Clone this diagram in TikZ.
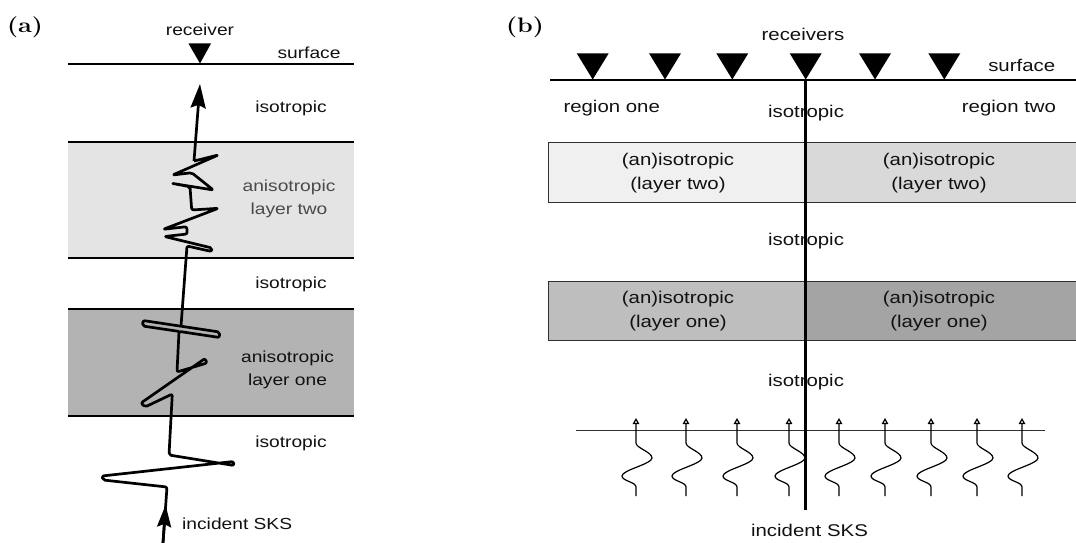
\documentclass[tikz,border=0pt]{standalone}
\usepackage{fontspec}
\usepackage{graphicx}
\usetikzlibrary{arrows.meta}
\newfontfamily\arialish{Liberation Sans}[FakeStretch=1.2]
\definecolor{txt}{HTML}{111111}
\definecolor{txtgray}{HTML}{4A4A4A}
\definecolor{aTwo}{HTML}{E4E4E4}
\definecolor{aOne}{HTML}{B3B3B3}
\definecolor{bTwoL}{HTML}{F0F0F0}
\definecolor{bTwoR}{HTML}{D9D9D9}
\definecolor{bOneL}{HTML}{BEBEBE}
\definecolor{bOneR}{HTML}{A4A4A4}
\definecolor{edge}{HTML}{303030}
\begin{document}
\begin{tikzpicture}[x=1pt,y=-1pt,
  lbl/.style={font=\fontsize{21}{23}\selectfont\bfseries, inner sep=0pt},
  ta/.style={font=\arialish\fontsize{16}{23}\selectfont, text=txt, inner sep=0pt, align=center},
  tb/.style={font=\arialish\fontsize{17}{23.8}\selectfont, text=txt, inner sep=0pt, align=center},
  ray/.style={line width=2.7pt, line join=round, rounded corners=2pt},
  bound/.style={line width=2pt},
  layerbox/.style={draw=edge, line width=1.4pt},
  wave/.style={line width=1.2pt, line join=round},
  recv/.style={fill=black}
]
\useasboundingbox (0,0) rectangle (1076,543);

% ---------------- panel (a) ----------------
\node[lbl] (la) at (25,27) {\scalebox{1.2}[1]{(a)}};
\fill[aTwo] (68,142) rectangle (354,258);
\fill[aOne] (68,309) rectangle (354,416);
\draw[bound] (68,64) -- (354,64);
\draw[bound] (68,142) -- (354,142);
\draw[bound] (68,258) -- (354,258);
\draw[bound] (68,309) -- (354,309);
\draw[bound] (68,416) -- (354,416);
\fill[recv] (188.5,43.5) -- (211,43.5) -- (200,63.5) -- cycle;

\node[ta] (arecv) at (200,30) {receiver};
\node[ta] (asurf) at (309,53) {surface};
\node[ta] (aiso1) at (291,108) {isotropic};
\node[ta, text=txtgray] (aani2) at (289,198.5) {anisotropic\\layer two};
\node[ta] (aiso2) at (291,284) {isotropic};
\node[ta] (aani1) at (287.5,369.5) {anisotropic\\layer one};
\node[ta] (aiso3) at (291,443.3) {isotropic};
\node[ta, anchor=west] (ainc) at (182,523.3) {incident SKS};

% ray path
\draw[ray] (163,543) -- (167,487) -- (103,480) -- (102,476) -- (233.5,461.5) -- (234,465.5) -- (169,455)
  -- (172.3,394) -- (145,407) -- (141,403) -- (205,358.5) -- (207,363) -- (177,372)
  -- (179,331.4) -- (219.5,337.5) -- (219.5,332) -- (143,320.5) -- (142.5,326) -- (179,331.4);
\draw[ray] (181,326.2) -- (187,246) -- (211.7,251.5) -- (212,248) -- (164.5,236.5) -- (187.3,234)
  -- (186.7,226.7) -- (163.3,229.3) -- (218.3,208.3) -- (191.7,210) -- (190,186.7)
  -- (171.7,183.3) -- (213.3,190) -- (191.7,172.7) -- (172.7,175) -- (218.3,155) -- (194,161);
\draw[line width=2.7pt, -{Stealth[length=24pt,width=15pt,inset=3pt]}] (194,161) -- (200,84);
\draw[line width=2.7pt, -{Stealth[length=22pt,width=14pt,inset=3pt]}] (163,543) -- (165.6,505);

% ---------------- panel (b) ----------------
\node[lbl] (lb) at (525,27) {\scalebox{1.2}[1]{(b)}};
\filldraw[layerbox, fill=bTwoL] (548.3,142.7) rectangle (805.7,202.3);
\filldraw[layerbox, fill=bTwoR] (805.7,142.7) rectangle (1076.5,202.3);
\filldraw[layerbox, fill=bOneL] (548.3,281.7) rectangle (805.7,340.7);
\filldraw[layerbox, fill=bOneR] (805.7,281.7) rectangle (1076.5,340.7);
\draw[bound] (550,80) -- (1076,80);
\foreach \x in {592.7,665,732.3,805.7,875,944.3}
  \fill[recv] (\x-16,53.3) -- (\x+16,53.3) -- (\x,79.5) -- cycle;

\node[tb] (brecv) at (803,34) {receivers};
\node[tb] (bsurf) at (1021.7,65) {surface};
\node[tb] (breg1) at (611.7,108) {region one};
\node[tb] (biso1) at (806,113) {isotropic};
\node[tb] (breg2) at (1009,108) {region two};
\node[tb] (btwoL) at (678,173.3) {(an)isotropic\\(layer two)};
\node[tb] (btwoR) at (939,173.3) {(an)isotropic\\(layer two)};
\node[tb] (biso2) at (806,240.7) {isotropic};
\node[tb] (boneL) at (678,311.3) {(an)isotropic\\(layer one)};
\node[tb] (boneR) at (939,311.3) {(an)isotropic\\(layer one)};
\node[tb] (biso3) at (806,381.7) {isotropic};
\node[tb] (binc) at (809.5,530.7) {incident SKS};

\draw[line width=1pt, draw=edge] (575.7,430.7) -- (1045,430.7);
\foreach \x in {636,686,737,789,839,885,931,977,1022}
  \draw[wave, -{Triangle[open,length=6pt,width=6.5pt]}] (\x,496) -- (\x,487)
    .. controls (\x,482) and (\x-14,481) .. (\x-14,476)
    .. controls (\x-14,470) and (\x+16,464) .. (\x+16,458)
    .. controls (\x+16,452) and (\x,448) .. (\x,443) -- (\x,418);
\draw[line width=2.6pt] (805.7,80) -- (805.7,510);
\end{tikzpicture}
\end{document}
